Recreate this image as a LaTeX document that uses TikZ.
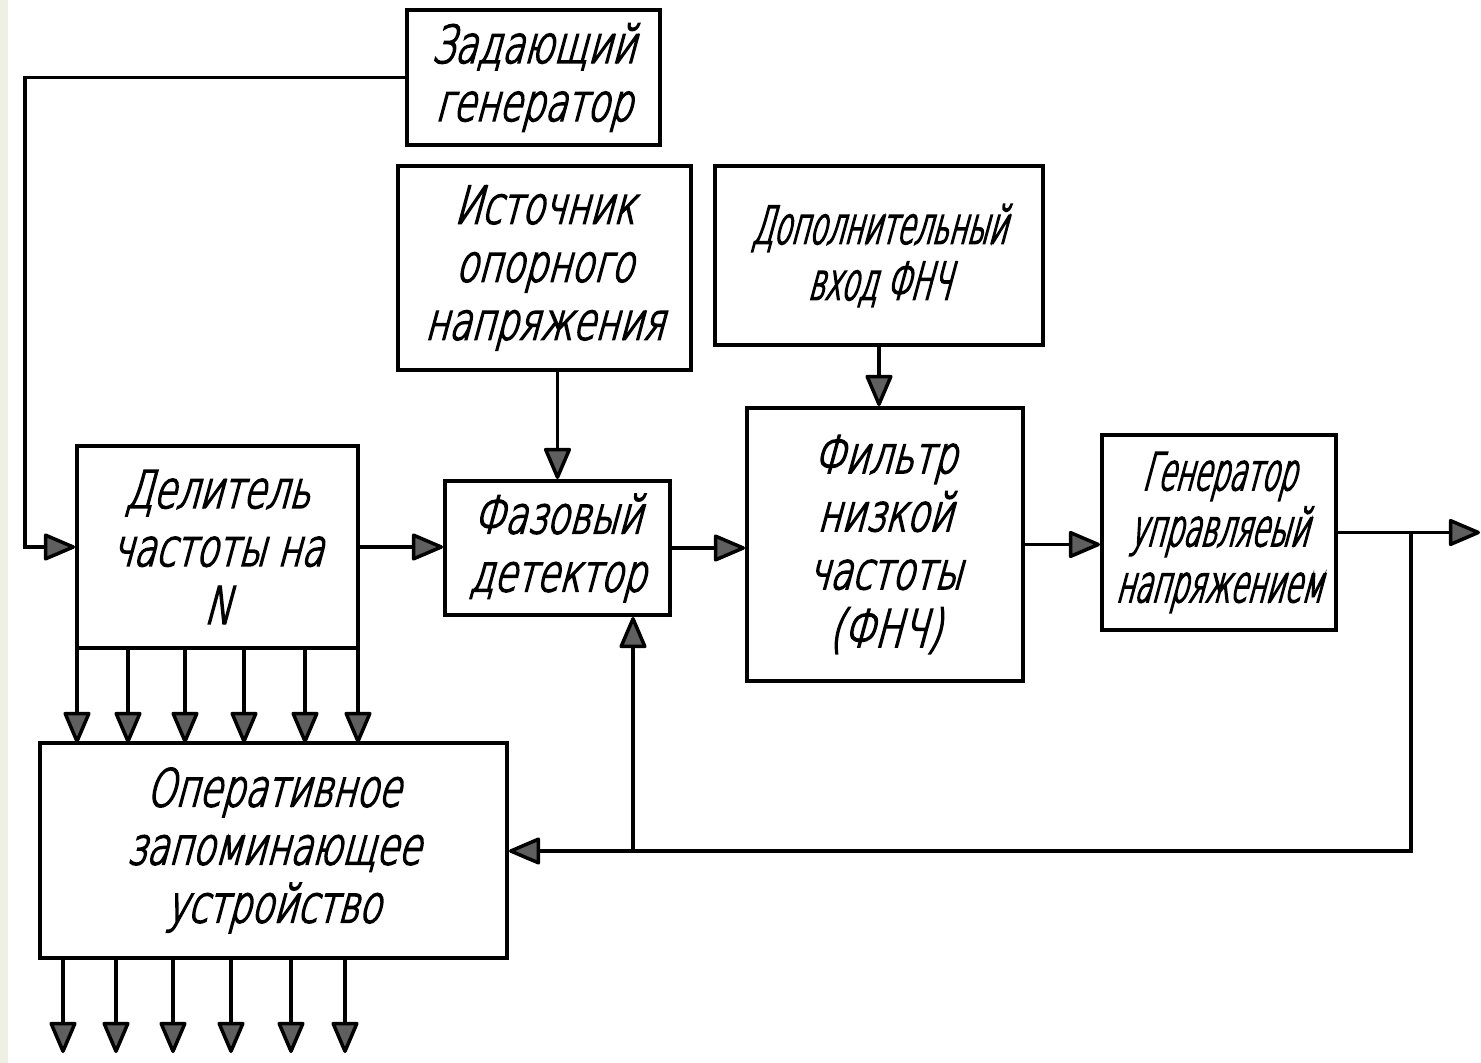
\documentclass[tikz,border=0pt]{standalone}
\usepackage{fontspec}
\usetikzlibrary{arrows.meta}
\newfontfamily\gostA[FakeStretch=0.7,FakeSlant=0.27,FakeBold=3]{DejaVu Sans ExtraLight}
\newfontfamily\gostB[FakeStretch=0.54,FakeSlant=0.27,FakeBold=3]{DejaVu Sans ExtraLight}
\definecolor{arrgray}{RGB}{95,95,95}
\definecolor{stripcol}{RGB}{238,240,228}
\tikzset{
  box/.style={draw=black, line width=4pt, rectangle, inner sep=0pt, align=center,
              font=\gostA\fontsize{52}{58}\selectfont},
  boxn/.style={box, font=\gostB\fontsize{52}{56}\selectfont},
  conn/.style={draw=black, line width=3.5pt},
  arr/.style={conn, -{Triangle[length=34pt,width=28pt,round,fill=arrgray]}},
}
\begin{document}
\begin{tikzpicture}[x=1pt,y=-1pt]
\fill[white] (0,0) rectangle (1481,1063);
\useasboundingbox (0,0) rectangle (1481,1063);
\fill[stripcol] (0,0) rectangle (8,1063);

% boxes
\node[box, minimum width=253pt, minimum height=135pt] (zg) at (533.5,77.5) {Задающий\\генератор};
\node[box, minimum width=293pt, minimum height=204pt] (ist) at (544.5,268) {Источник\\опорного\\напряжения};
\node[boxn, minimum width=328pt, minimum height=179pt] (dop) at (879,255.5) {Дополнительный\\вход ФНЧ};
\node[box, minimum width=281pt, minimum height=202pt] (del) at (217.5,547) {Делитель\\частоты на\\N};
\node[box, minimum width=225pt, minimum height=134pt] (fd) at (557.5,548) {Фазовый\\детектор};
\node[box, minimum width=276pt, minimum height=273pt] (fnch) at (885,544.5) {Фильтр\\низкой\\частоты\\(ФНЧ)};
\node[boxn, minimum width=234pt, minimum height=195pt] (gun) at (1219,532.5) {Генератор\\управляеый\\напряжением};
\node[box, minimum width=467pt, minimum height=215pt] (ozu) at (273.5,850.5) {Оперативное\\запоминающее\\устройство};

% coordinates
\coordinate (out) at (1480,532.5);
\coordinate (j1) at (1411,532.5);
\coordinate (j1b) at (1411,851);
\coordinate (j2) at (633,851);
\coordinate (zgL) at (25,77.5);

% connectors
\draw[arr] (zg.west) -- (zgL) |- (del.west);
\draw[arr] (del.east) -- (del.east -| fd.west);
\draw[arr] (fd.east) -- (fd.east -| fnch.west);
\draw[arr] (fnch.east) -- (fnch.east -| gun.west);
\draw[arr] (gun.east) -- (out);
\draw[arr] (ist.south -| fd.north) -- (fd.north);
\draw[arr] (dop.south) -- (dop.south |- fnch.north);
\draw[arr] (j1) -- (j1b) -- (j1b -| ozu.east);
\draw[arr] (j2) -- (j2 |- fd.south);

% divider outputs to RAM
\foreach \x in {77,128,185,244,305,358}
  \draw[arr] (\x,648) -- (\x,743);
% RAM outputs
\foreach \x in {63,116,173,231,291,345}
  \draw[arr] (\x,958) -- (\x,1053);
\end{tikzpicture}
\end{document}
